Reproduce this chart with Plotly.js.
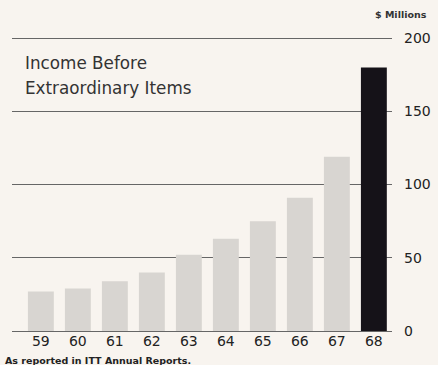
<!DOCTYPE html>
<html><head><meta charset="utf-8">
<script src="https://cdn.plot.ly/plotly-3.0.1.min.js"></script>
<style>html,body{margin:0;padding:0;background:#f8f4ef;}</style>
</head><body>
<div id="chart" style="width:438px;height:365px;"></div>
<script>
const years = ['59','60','61','62','63','64','65','66','67','68'];
const income = [27, 29, 34, 40, 52, 63, 75, 91, 119, 180];
const barColors = ['#d8d5d1','#d8d5d1','#d8d5d1','#d8d5d1','#d8d5d1','#d8d5d1','#d8d5d1','#d8d5d1','#d8d5d1','#151218'];
const yTicks = [0, 50, 100, 150, 200];

const trace = {
  type: 'bar', x: years, y: income,
  marker: {color: barColors, line: {width: 0}},
  hoverinfo: 'none'
};
const font = 'DejaVu Sans, Verdana, sans-serif';
const layout = {
  width: 438, height: 365,
  margin: {l: 12, r: 46, t: 37, b: 34},
  paper_bgcolor: '#f8f4ef', plot_bgcolor: '#f8f4ef',
  bargap: 0.3, showlegend: false,
  font: {family: font, color: '#2a2a2a'},
  xaxis: {
    type: 'category', range: [-0.78, 9.49], showgrid: false, zeroline: false,
    showline: false, ticks: '', tickfont: {size: 14, color: '#222'}, ticklabelstandoff: 0,
    fixedrange: true
  },
  yaxis: {
    side: 'right', range: [0, 200.8], tickvals: yTicks, ticktext: yTicks.map(String),
    showgrid: true, gridcolor: '#666666', gridwidth: 1, zeroline: true, zerolinecolor: '#666666',
    zerolinewidth: 1, showline: false, ticks: '', ticklabelstandoff: 11,
    tickfont: {size: 14, color: '#222'}, fixedrange: true
  },
  annotations: [
    {text: 'Income Before', xref: 'paper', yref: 'paper', x: 0.03, y: 0.911, xanchor: 'left', yanchor: 'middle', showarrow: false, font: {size: 16.8, color: '#333', family: font}},
    {text: 'Extraordinary Items', xref: 'paper', yref: 'paper', x: 0.03, y: 0.826, xanchor: 'left', yanchor: 'middle', showarrow: false, font: {size: 16.8, color: '#333', family: font}},
    {text: '<b>$ Millions</b>', xref: 'paper', yref: 'paper', x: 1.097, y: 1.075, xanchor: 'right', yanchor: 'middle', showarrow: false, font: {size: 9.5, color: '#333', family: font}},
    {text: '<b>As reported in ITT Annual Reports.</b>', xref: 'paper', yref: 'paper', x: -0.024, y: -0.099, xanchor: 'left', yanchor: 'middle', showarrow: false, font: {size: 9.5, color: '#222', family: font}}
  ]
};
Plotly.newPlot('chart', [trace], layout, {displayModeBar: false, staticPlot: true});
</script>
</body></html>
